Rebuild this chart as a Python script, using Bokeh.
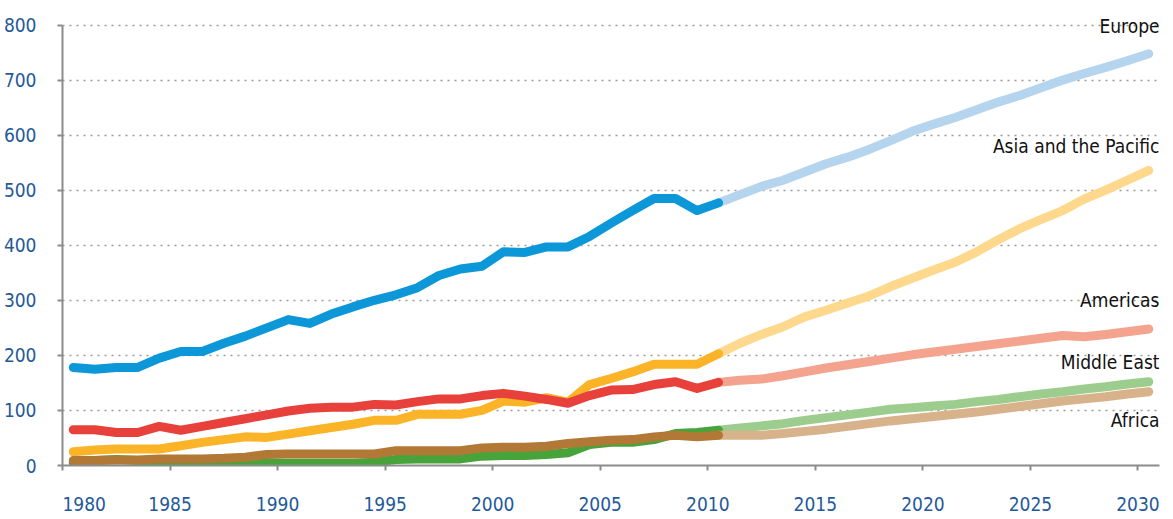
from bokeh.plotting import figure
from bokeh.models import FixedTicker, Range1d
from bokeh.core.properties import value
from bokeh.embed import file_html
from bokeh.resources import INLINE

FONT = "DejaVu Sans Condensed, Liberation Sans, sans-serif"

hist_years = list(range(1980, 2011))
proj_years = list(range(2010, 2031))

europe_hist = [178, 175, 178, 178, 195, 207, 207, 222, 235, 250, 265, 258, 275, 288, 300,
               310, 323, 345, 357, 362, 388, 387, 397, 397, 416, 440, 463, 485, 485, 463, 477]
europe_proj = [477, 492, 507, 518, 533, 548, 560, 574, 590, 607, 620, 632, 646, 660, 672,
               686, 700, 712, 723, 735, 748]

asia_hist = [25, 28, 30, 30, 30, 36, 42, 47, 52, 51, 57, 63, 69, 75, 82,
             82, 93, 93, 93, 100, 117, 115, 123, 115, 147, 158, 170, 184, 184, 184, 203]
asia_proj = [203, 222, 238, 252, 270, 282, 295, 308, 325, 340, 355, 369, 388, 410, 430,
             447, 463, 484, 500, 518, 536]

americas_hist = [65, 65, 60, 60, 71, 64, 71, 78, 85, 92, 99, 104, 106, 106, 111,
                 110, 116, 121, 121, 127, 131, 126, 120, 113, 127, 137, 138, 147, 152, 140, 151]
americas_proj = [151, 155, 157, 163, 170, 177, 183, 189, 195, 201, 206, 211, 216, 221, 226,
                 231, 236, 234, 238, 243, 248]

mideast_hist = [5, 9, 11, 9, 7, 4, 4, 4, 4, 4, 4, 4, 4, 4, 6,
                11, 12, 12, 12, 17, 18, 18, 20, 23, 38, 42, 42, 47, 58, 60, 64]
mideast_proj = [64, 68, 72, 76, 82, 87, 92, 97, 102, 105, 108, 111, 116, 120, 125,
                130, 134, 139, 143, 148, 152]

africa_hist = [9, 9, 10, 10, 12, 12, 12, 13, 15, 20, 21, 21, 21, 21, 21,
               27, 27, 27, 27, 32, 33, 33, 35, 40, 43, 46, 47, 52, 55, 52, 55]
africa_proj = [55, 55, 55, 58, 62, 66, 71, 76, 81, 85, 89, 93, 97, 102, 107,
               112, 117, 121, 125, 130, 134]

region_names = ["Europe", "Asia and the Pacific", "Americas", "Middle East", "Africa"]
x_ticks = [1980, 1985, 1990, 1995, 2000, 2005, 2010, 2015, 2020, 2025, 2030]
y_ticks = [0, 100, 200, 300, 400, 500, 600, 700, 800]

series = [
    (europe_hist, europe_proj, "#0c97d8", "#b5d5ef"),
    (asia_hist, asia_proj, "#fbb428", "#fdd88d"),
    (americas_hist, americas_proj, "#e8413b", "#f4a38e"),
    (mideast_hist, mideast_proj, "#48a43a", "#9dcd8e"),
    (africa_hist, africa_proj, "#b27836", "#d8b28b"),
]
label_y = [798, 580, 300, 188, 82]

p = figure(frame_width=1097, frame_height=457, output_backend="svg", toolbar_location=None,
           x_range=Range1d(1980, 2031), y_range=Range1d(0, 830),
           min_border_left=62, min_border_right=2, min_border_top=8, min_border_bottom=51)
p.outline_line_color = None
p.background_fill_color = "white"
p.border_fill_color = "white"

hx = [y + 0.5 for y in hist_years]
px = [y + 0.5 for y in proj_years]
for hist, proj, c_dark, c_light in series:
    p.line(px, proj, line_color=c_light, line_width=9, line_cap="round", line_join="round")
    p.line(hx, hist, line_color=c_dark, line_width=9, line_cap="round", line_join="round")

p.text(x=[2031] * len(region_names), y=label_y, text=region_names, text_align="right",
       text_baseline="alphabetic", text_font=value(FONT), text_font_size="19px",
       text_color="#111111")

tick_color = "#24599a"
axis_color = "#8c8c8c"

p.xaxis.ticker = FixedTicker(ticks=x_ticks)
# the first year label sits to the right of its tick, as in the source chart
p.xaxis.major_label_overrides = {x_ticks[0]: "\u2007\u2007\u2007\u2007" + str(x_ticks[0])}
p.yaxis.ticker = FixedTicker(ticks=y_ticks)
p.yaxis.bounds = (0, 800)
for ax in (p.xaxis, p.yaxis):
    ax.axis_line_color = axis_color
    ax.axis_line_width = 2
    ax.major_tick_line_color = axis_color
    ax.major_tick_line_width = 2
    ax.major_tick_out = 5
    ax.major_tick_in = 0
    ax.minor_tick_line_color = None
    ax.major_label_text_color = tick_color
    ax.major_label_text_font = FONT
    ax.major_label_text_font_size = "19px"
p.yaxis.major_label_standoff = 21
p.xaxis.major_label_standoff = 22

p.xgrid.visible = False
p.ygrid.ticker = FixedTicker(ticks=y_ticks[1:])
p.ygrid.grid_line_color = "#9a9a9a"
p.ygrid.grid_line_dash = "2 5"
p.ygrid.grid_line_width = 1.5

open("out.html", "w").write(file_html(p, INLINE))
